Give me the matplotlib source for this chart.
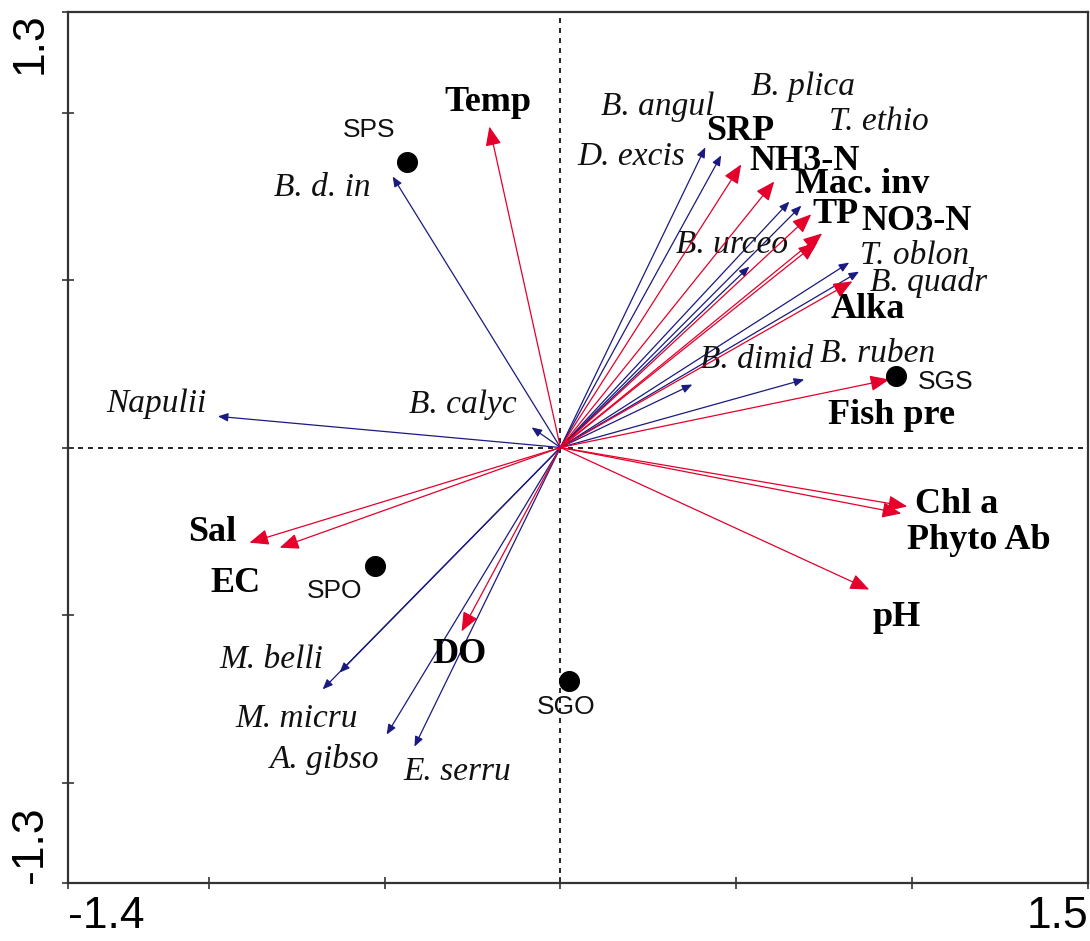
import numpy as np
import matplotlib
matplotlib.use("Agg")
import matplotlib.pyplot as plt
from matplotlib.patches import FancyArrowPatch

# environmental variables (red arrows)
env_names = ["Temp", "SRP", "NH3-N", "Mac. inv", "TP", "NO3-N", "Alka",
             "Fish pre", "Chl a", "Phyto Ab", "pH", "Sal", "EC", "DO"]
env_x = [-0.202, 0.514, 0.608, 0.713, 0.744, 0.730, 0.830,
         0.935, 0.986, 0.969, 0.878, -0.884, -0.798, -0.281]
env_y = [0.958, 0.845, 0.794, 0.696, 0.639, 0.612, 0.496,
         0.203, -0.176, -0.197, -0.424, -0.284, -0.299, -0.549]

# species (blue arrows)
spp_names = ["D. excis", "B. angul", "B. plica", "T. ethio", "B. urceo", "T. oblon",
             "B. quadr", "B. dimid", "B. ruben", "B. d. in", "Napulii", "B. calyc",
             "M. belli", "M. micru", "A. gibso", "E. serru"]
spp_x = [0.412, 0.457, 0.651, 0.685, 0.537, 0.821,
         0.849, 0.375, 0.693, -0.477, -0.974, -0.082,
         -0.628, -0.676, -0.494, -0.415]
spp_y = [0.896, 0.872, 0.734, 0.722, 0.540, 0.552,
         0.525, 0.188, 0.203, 0.809, 0.093, 0.060,
         -0.672, -0.722, -0.857, -0.893]

# sites
site_names = ["SPS", "SGS", "SPO", "SGO"]
site_x = [-0.437, 0.955, -0.528, 0.023]
site_y = [0.851, 0.212, -0.355, -0.696]

# label positions (data coords)
env_lab = [(-0.205, 1.030), (0.511, 0.943), (0.693, 0.854), (0.858, 0.785),
           (0.781, 0.696), (1.014, 0.675), (0.875, 0.412), (0.940, 0.096),
           (1.128, -0.170), (1.190, -0.278), (0.955, -0.507), (-0.989, -0.254),
           (-0.923, -0.406), (-0.287, -0.618)]
spp_lab = [(0.202, 0.869), (0.276, 1.018), (0.690, 1.078), (0.906, 0.973),
           (0.489, 0.606), (1.006, 0.573), (1.048, 0.493), (0.557, 0.263),
           (0.903, 0.281), (-0.676, 0.776), (-1.148, 0.131), (-0.278, 0.128),
           (-0.821, -0.633), (-0.750, -0.809), (-0.670, -0.931), (-0.293, -0.967)]
site_lab = [(-0.545, 0.949), (1.094, 0.197), (-0.642, -0.427), (0.017, -0.776)]

RED = "#E4002B"
BLUE = "#1A1A80"

fig = plt.figure(figsize=(10.9, 9.41), dpi=100)
ax = fig.add_axes([68 / 1090, 1 - 883 / 941, 1020 / 1090, 871 / 941])
ax.set_xlim(-1.4, 1.5)
ax.set_ylim(-1.3, 1.3)

ax.axhline(0, color="black", lw=1.2, ls=(0, (3, 3)), zorder=1)
ax.axvline(0, color="black", lw=1.2, ls=(0, (3, 3)), zorder=1)

for i in range(len(spp_names)):
    arr = FancyArrowPatch((0, 0), (spp_x[i], spp_y[i]),
                          arrowstyle="-|>,head_length=0.6,head_width=0.25",
                          mutation_scale=10, color=BLUE, lw=0.9,
                          shrinkA=0, shrinkB=0, zorder=2)
    ax.add_patch(arr)
    ax.text(spp_lab[i][0], spp_lab[i][1], spp_names[i], ha="center", va="center",
            fontsize=24, family="Liberation Serif", style="italic", color="#111111")

for i in range(len(env_names)):
    arr = FancyArrowPatch((0, 0), (env_x[i], env_y[i]),
                          arrowstyle="-|>,head_length=0.65,head_width=0.27",
                          mutation_scale=18, color=RED, lw=0.9,
                          shrinkA=0, shrinkB=0, zorder=3)
    ax.add_patch(arr)
    ax.text(env_lab[i][0], env_lab[i][1], env_names[i], ha="center", va="center",
            fontsize=26, family="Liberation Serif", weight="bold", color="black")

ax.scatter(site_x, site_y, s=200, color="black", zorder=4)
for i in range(len(site_names)):
    ax.text(site_lab[i][0], site_lab[i][1], site_names[i], ha="center", va="center",
            fontsize=19, family="Liberation Sans", color="#111111")

for s in ax.spines.values():
    s.set_color("#333333")
    s.set_linewidth(1.6)

ax.set_xticks([-1.4, 1.5])
ax.set_xticklabels(["-1.4", "1.5"])
ax.set_yticks([-1.3, 1.3])
ax.set_yticklabels(["-1.3", "1.3"], rotation=90)
ax.set_xticks([-1.0, -0.5, 0, 0.5, 1.0], minor=True)
ax.set_yticks([-1.0, -0.5, 0, 0.5, 1.0], minor=True)
ax.tick_params(which="both", direction="inout", length=9, width=1.2, color="#333333")
ax.tick_params(axis="x", pad=5)
ax.tick_params(axis="y", pad=8)
for t in ax.get_xticklabels() + ax.get_yticklabels():
    t.set_fontsize(32)
    t.set_family("Liberation Sans")
xl = ax.get_xticklabels()
xl[0].set_ha("left")
xl[1].set_ha("right")
yl = ax.get_yticklabels()
yl[0].set_va("bottom")
yl[1].set_va("top")

fig.savefig("out.png", dpi=100)
